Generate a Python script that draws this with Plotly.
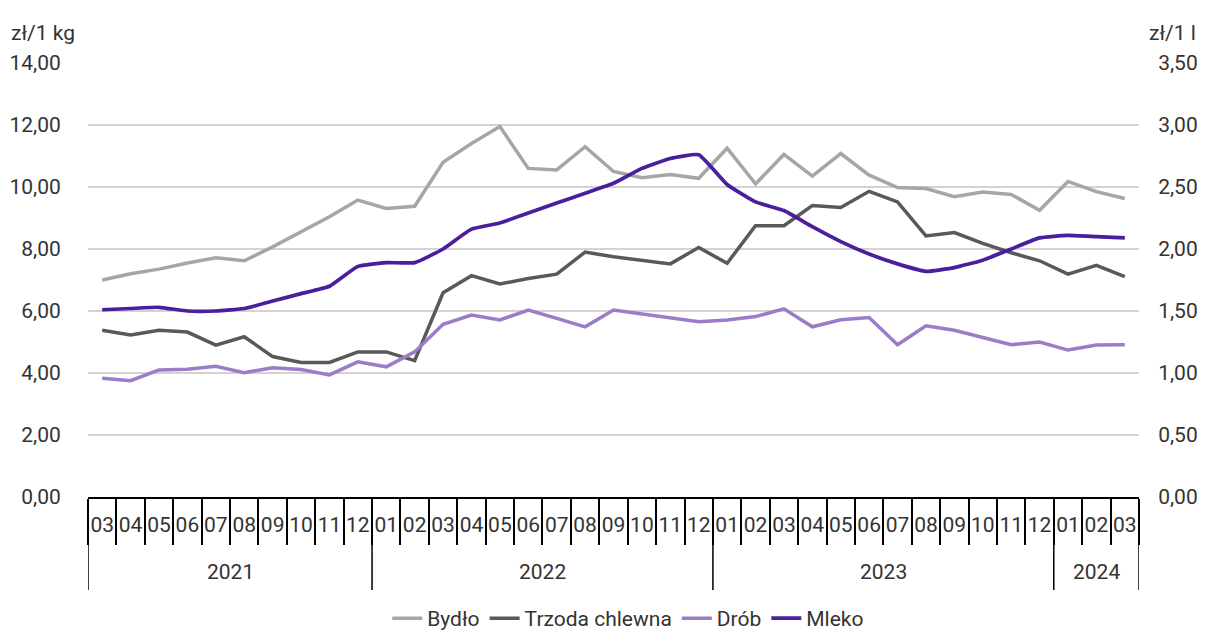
import plotly.graph_objects as go

years = ["2021"] * 10 + ["2022"] * 12 + ["2023"] * 12 + ["2024"] * 3
months = ["03", "04", "05", "06", "07", "08", "09", "10", "11", "12",
          "01", "02", "03", "04", "05", "06", "07", "08", "09", "10", "11", "12",
          "01", "02", "03", "04", "05", "06", "07", "08", "09", "10", "11", "12",
          "01", "02", "03"]

bydlo = [7.00, 7.20, 7.35, 7.55, 7.72, 7.62, 8.07, 8.55, 9.04, 9.58, 9.31, 9.38,
         10.80, 11.40, 11.95, 10.60, 10.55, 11.30, 10.50, 10.30, 10.40, 10.28,
         11.25, 10.10, 11.05, 10.35, 11.08, 10.38, 9.98, 9.95, 9.69, 9.84, 9.76,
         9.25, 10.18, 9.85, 9.63]
trzoda = [5.38, 5.23, 5.38, 5.32, 4.90, 5.17, 4.53, 4.34, 4.34, 4.68, 4.68, 4.40,
          6.59, 7.14, 6.87, 7.05, 7.19, 7.90, 7.75, 7.64, 7.52, 8.05, 7.54,
          8.75, 8.75, 9.40, 9.34, 9.86, 9.52, 8.42, 8.53, 8.18, 7.88, 7.62,
          7.19, 7.47, 7.11]
drob = [3.83, 3.75, 4.10, 4.12, 4.22, 4.01, 4.17, 4.11, 3.94, 4.36, 4.20, 4.68,
        5.57, 5.87, 5.71, 6.03, 5.76, 5.49, 6.03, 5.91, 5.79, 5.65, 5.71, 5.82,
        6.07, 5.49, 5.72, 5.79, 4.91, 5.52, 5.38, 5.15, 4.91, 5.00, 4.74, 4.90, 4.91]
mleko = [1.51, 1.52, 1.53, 1.50, 1.50, 1.52, 1.58, 1.64, 1.70, 1.86, 1.89, 1.89,
         2.00, 2.16, 2.21, 2.29, 2.37, 2.45, 2.53, 2.65, 2.73, 2.76, 2.52, 2.38,
         2.31, 2.18, 2.06, 1.96, 1.88, 1.82, 1.85, 1.91, 2.00, 2.09, 2.11, 2.10, 2.09]

font_family = "Roboto"
text_color = "#333333"
fs = 21

idx = list(range(len(months)))
fig = go.Figure()
fig.add_trace(go.Scatter(x=idx, y=bydlo, name="Bydło", mode="lines",
                         line=dict(color="#A6A6A6", width=3.5)))
fig.add_trace(go.Scatter(x=idx, y=trzoda, name="Trzoda chlewna", mode="lines",
                         line=dict(color="#595959", width=3.5)))
fig.add_trace(go.Scatter(x=idx, y=drob, name="Drób", mode="lines",
                         line=dict(color="#9A7CC8", width=3.5)))
fig.add_trace(go.Scatter(x=idx, y=mleko, name="Mleko", mode="lines", yaxis="y2",
                         line=dict(color="#4B1E9E", width=3.7, shape="spline", smoothing=0.4)))

# month boundaries and year groups
boundaries = [i - 0.5 for i in idx] + [idx[-1] + 0.5]
year_groups = []
for i, yv in enumerate(years):
    if not year_groups or year_groups[-1][0] != yv:
        year_groups.append([yv, i, i])
    else:
        year_groups[-1][2] = i
year_edges = [g[1] - 0.5 for g in year_groups] + [year_groups[-1][2] + 0.5]

shapes = [dict(type="line", xref="x", yref="paper", x0=e, x1=e, y0=0, y1=-0.214,
               line=dict(color="black", width=1.5)) for e in year_edges]

annotations = [dict(text=g[0], xref="x", yref="paper", x=(g[1] + g[2]) / 2, y=-0.172,
                    xanchor="center", yanchor="middle", showarrow=False,
                    font=dict(size=fs)) for g in year_groups]
annotations += [
    dict(text="zł/1 kg", xref="paper", yref="paper", x=-0.075, y=1.069,
         xanchor="left", yanchor="middle", showarrow=False, font=dict(size=fs)),
    dict(text="zł/1 l", xref="paper", yref="paper", x=1.056, y=1.069,
         xanchor="right", yanchor="middle", showarrow=False, font=dict(size=fs)),
]

# page body has an 8px margin, so the figure is 8px smaller and shifted
fig.update_layout(
    width=1199, height=625,
    margin=dict(l=80, r=68, t=55, b=136, autoexpand=False),
    paper_bgcolor="white", plot_bgcolor="white",
    separators=", ",
    font=dict(family=font_family, size=fs, color=text_color),
    showlegend=True,
    legend=dict(orientation="h", x=0.514, xanchor="center", y=-0.28, yanchor="middle",
                font=dict(size=fs), traceorder="normal"),
    xaxis=dict(range=[-0.5, idx[-1] + 0.5], tickmode="array", tickvals=idx, ticktext=months,
               showline=True, linecolor="black", linewidth=1.5,
               ticks="outside", ticklen=8, tickcolor="rgba(0,0,0,0)",
               minor=dict(tickmode="array", tickvals=boundaries, ticks="outside", ticklen=46,
                          tickcolor="black", tickwidth=1.5, showgrid=False),
               showgrid=False, zeroline=False, tickfont=dict(size=fs), automargin=False),
    yaxis=dict(range=[0, 14], dtick=2, tickformat=".2f", showgrid=True,
               gridcolor="#D3D3D3", gridwidth=1.5, zeroline=False, showline=False,
               ticks="outside", ticklen=22, tickcolor="rgba(0,0,0,0)", automargin=False),
    yaxis2=dict(range=[0, 3.5], dtick=0.5, tickformat=".2f", overlaying="y", side="right",
                showgrid=False, zeroline=False, showline=False,
                ticks="outside", ticklen=14, tickcolor="rgba(0,0,0,0)", automargin=False),
    shapes=shapes,
    annotations=annotations,
)

fig.write_html("out.html")
